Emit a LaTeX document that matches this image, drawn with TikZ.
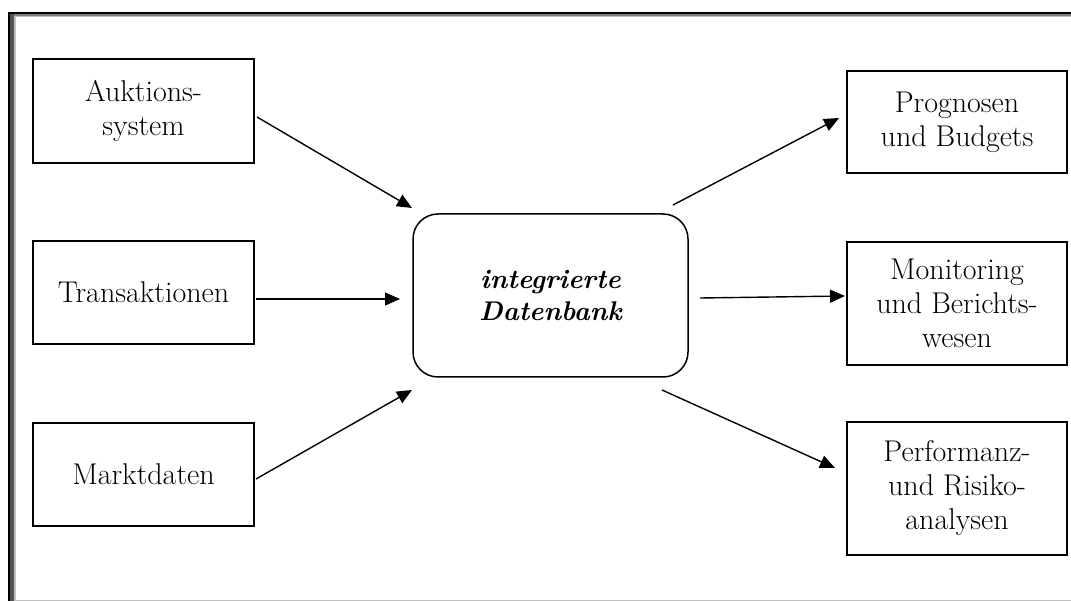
\documentclass[tikz,border=0pt]{standalone}
\usetikzlibrary{arrows.meta}
\begin{document}
\begin{tikzpicture}[x=1pt,y=-1pt,
  txt/.style={font=\fontsize{30}{34}\selectfont, align=center},
  box/.style={txt, draw, line width=1.5pt, inner sep=0pt},
  lbox/.style={box, minimum width=221pt},
  rbox/.style={box, minimum width=220pt},
  arr/.style={line width=1.4pt, -{Triangle[length=15pt,width=13pt]}}]
\useasboundingbox (0,0) rectangle (1071,601);
% frame
\fill[black] (8,12) rectangle (1071,14);
\fill[black] (8,12) rectangle (10,601);
\fill[black!67] (10,14) rectangle (14,601);
\fill[black!50] (14,14) rectangle (1071,16);
\fill[black!25] (14,16) rectangle (1071,17.5);
\fill[black!25] (14,16) rectangle (16,601);
\fill[black!25] (16,599.5) rectangle (1071,601);
% left boxes
\node[lbox, minimum height=104pt] (auk) at (143.5,111) {Auktions-\\system};
\node[lbox, minimum height=103pt] (tra) at (143.5,292.5) {Transaktionen};
\node[lbox, minimum height=103pt] (mkt) at (143.5,474.5) {Marktdaten};
% central
\node[draw, line width=1.5pt, rounded corners=25pt, minimum width=275pt, minimum height=163pt,
      align=center, font=\fontsize{27}{32}\selectfont\bfseries\itshape] (db) at (550.5,295.5)
      {integrierte\\Datenbank};
% right boxes
\node[rbox, minimum height=102pt] (pro) at (957,122) {Prognosen\\und Budgets};
\node[rbox, minimum height=123pt] (mon) at (957,303.5) {Monitoring\\und Berichts-\\wesen};
\node[rbox, minimum height=133pt] (per) at (957,488.5) {Performanz-\\und Risiko-\\analysen};
% connector end points
\coordinate (s1) at (257,117);  \coordinate (t1) at (412,208);
\coordinate (s2) at (256,299);  \coordinate (t2) at (400,299);
\coordinate (s3) at (256,479);  \coordinate (t3) at (412,390);
\coordinate (s4) at (673,205);  \coordinate (t4) at (839,118);
\coordinate (s5) at (700,298);  \coordinate (t5) at (845,296);
\coordinate (s6) at (662,390);  \coordinate (t6) at (835,468);
\draw[arr] (s1) -- (t1);
\draw[arr] (s2) -- (t2);
\draw[arr] (s3) -- (t3);
\draw[arr] (s4) -- (t4);
\draw[arr] (s5) -- (t5);
\draw[arr] (s6) -- (t6);
\end{tikzpicture}
\end{document}
